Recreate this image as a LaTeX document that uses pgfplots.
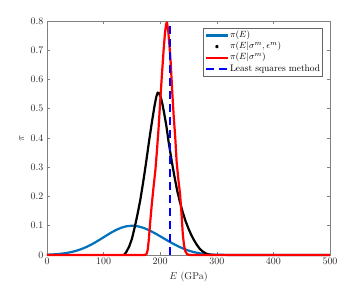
\documentclass[border=0pt]{standalone}
\usepackage{pgfplots}
\pgfplotsset{compat=1.18}
\definecolor{mblue}{rgb}{0,0.447,0.741}
\begin{document}
\begin{tikzpicture}
\useasboundingbox (-47bp,-28bp) rectangle (312bp,255bp);
\begin{axis}[
  at={(0,0)}, anchor=south west,
  scale only axis, width=283bp, height=234bp,
  xmin=0, xmax=500, ymin=0, ymax=0.8,
  xtick={0,100,...,500},
  ytick={0,0.1,0.2,0.3,0.4,0.5,0.6,0.7,0.8},
  yticklabel style={/pgf/number format/fixed},
  tick align=inside, major tick length=3bp,
  axis line style={black!50, line width=0.5bp},
  tick style={black!50, line width=0.5bp},
  ticklabel style={text=black!85},
  xlabel={$E$ (GPa)}, ylabel={$\pi$},
  label style={text=black!85},
  clip=false,
  every axis plot/.append style={line join=round, line cap=butt},
  legend cell align=left,
  legend style={at={(1,1)}, anchor=north east, xshift=-7bp, yshift=-7bp,
    draw=black!60, line width=0.5bp, inner xsep=1.5bp, inner ysep=2.5bp,
    font=\fontsize{9.5}{10}\selectfont, row sep=1.6bp,
    nodes={inner xsep=1bp, inner ysep=0bp, text height=7bp, text depth=2.5bp}},
  legend image code/.code={\draw[#1] (0bp,0bp) -- (22bp,0bp);},
]
% pi(E) prior
\addplot[mblue, line width=2.2bp, smooth] coordinates {
(0,0.0011) (10,0.0020) (20,0.0034) (30,0.0056) (40,0.0089) (50,0.0135)
(60,0.0198) (70,0.0278) (80,0.0375) (90,0.0487) (100,0.0607) (110,0.0726)
(120,0.0835) (130,0.0923) (140,0.0980) (150,0.1000) (160,0.0982) (170,0.0930)
(180,0.0850) (190,0.0750) (200,0.0640) (210,0.0525) (220,0.0415) (230,0.0315)
(240,0.0225) (250,0.0152) (260,0.0096) (270,0.0058) (280,0.0034) (290,0.0019)
(300,0.0010) (320,0.0003) (350,0) (500,0)};
\addlegendentry{$\pi(E)$}
% pi(E | sigma, eps)
\addplot[black, line width=2.2bp,
  legend image code/.code={\fill[black] (11bp,0bp) circle (0.7bp);}] coordinates {
(136,0) (140,0.010) (145,0.028) (150,0.055) (155,0.095) (160,0.140) (165,0.190)
(170,0.250) (175,0.315) (180,0.385) (185,0.450) (190,0.510) (193,0.540)
(195.5,0.555) (198,0.553) (201,0.540) (204,0.515) (207,0.485) (211,0.440)
(215,0.385) (220,0.325) (225,0.270) (230,0.220) (235,0.180) (240,0.145)
(245,0.115) (250,0.090) (255,0.068) (260,0.050) (265,0.034) (270,0.021)
(275,0.012) (280,0.006) (285,0.002) (290,0)};
\addlegendentry{$\pi(E|\sigma^m,\epsilon^m)$}
% pi(E | sigma)
\addplot[red, line width=2.2bp] coordinates {
(0,0) (172,0) (174,0.001) (176,0.004) (178,0.018) (180,0.055) (182,0.105)
(185,0.170) (188,0.228) (191.5,0.290) (194,0.350) (197,0.430) (200,0.525)
(203,0.615) (206,0.700) (208.5,0.760) (210.5,0.790) (212,0.795) (214,0.770) (216,0.725)
(218.5,0.660) (221.5,0.550) (224,0.470) (226.5,0.405) (229,0.320) (232,0.260)
(235,0.210) (237,0.160) (238.5,0.115) (240,0.070) (242,0.035) (244,0.015)
(247,0.004) (250,0.001) (253,0) (500,0)};
\addlegendentry{$\pi(E|\sigma^m)$}
% least squares
\addplot[blue, line width=2.2bp, dash pattern=on 8bp off 5bp] coordinates {(217,0) (217,0.8)};
\addlegendentry{Least squares method}
\end{axis}
\end{tikzpicture}
\end{document}
